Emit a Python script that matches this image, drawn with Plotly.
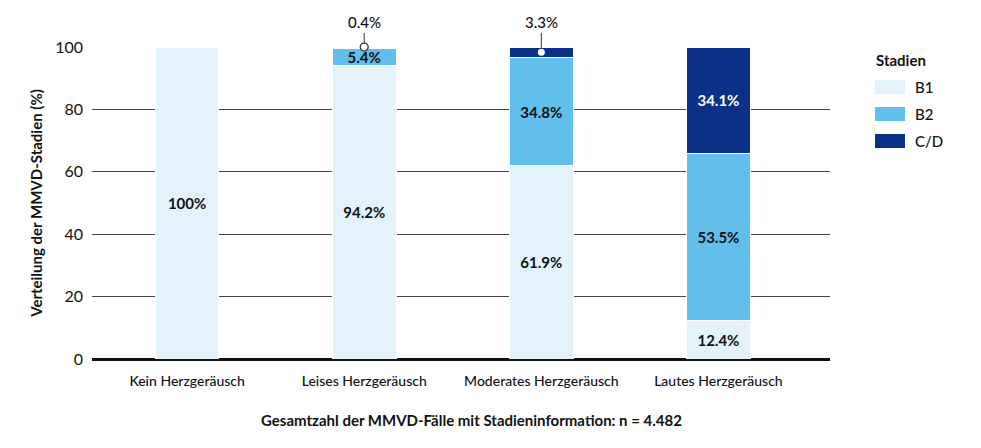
import plotly.graph_objects as go

categories = ["Kein Herzgeräusch", "Leises Herzgeräusch", "Moderates Herzgeräusch", "Lautes Herzgeräusch"]
b1 = [100, 94.2, 61.9, 12.4]
b2 = [0, 5.4, 34.8, 53.5]
cd = [0, 0.4, 3.3, 34.1]
b1_labels = ["100%", "94.2%", "61.9%", "12.4%"]
b2_labels = ["", "5.4%", "34.8%", "53.5%"]
cd_labels = ["", "", "", "34.1%"]
# small segments labelled outside with a leader line
callout_cats = ["Leises Herzgeräusch", "Moderates Herzgeräusch"]
callout_text = ["0.4%", "3.3%"]
series_names = ["B1", "B2", "C/D"]

FONT = "Lato"
DARK = "#111111"
C_B1 = "#e4f3fb"
C_B2 = "#62bfec"
C_CD = "#0a3187"
colors = [C_B1, C_B2, C_CD]
text_colors = [DARK, DARK, "white"]

# plot area pixel geometry
L, R, T, B, W, H = 92, 151, 47, 89, 981, 448
PW, PH = W - L - R, H - T - B
def px(x):
    return (x - L) / PW
def py(y):
    return (H - B - y) / PH

fig = go.Figure()
for name, vals, labels, color, tcol in zip(series_names, [b1, b2, cd], [b1_labels, b2_labels, cd_labels], colors, text_colors):
    fig.add_trace(go.Bar(
        x=categories, y=vals, name=name, text=labels, textposition="inside",
        insidetextanchor="middle", width=0.36, showlegend=False,
        marker=dict(color=color, line=dict(color="white", width=1)),
        textfont=dict(family=FONT, size=15, color=tcol, weight=700),
        constraintext="none", hoverinfo="skip",
    ))

# callout markers
idx = [categories.index(c) for c in callout_cats]
tops = [round(b1[i] + b2[i] + cd[i], 6) for i in idx]
mids = [round(b1[i] + b2[i] + cd[i] / 2, 6) for i in idx]
point_y = [tops[0], mids[1]]
for c, t, yv in zip(callout_cats, callout_text, point_y):
    fig.add_annotation(x=c, y=yv, text=t, showarrow=True, arrowhead=0, arrowwidth=1,
                       arrowcolor="#333", ax=0, ay=-(100 - yv) * 3.12 - 14, standoff=3,
                       font=dict(family=FONT, size=15, color=DARK, weight=500), yanchor="bottom")
fig.add_trace(go.Scatter(
    x=[callout_cats[0]], y=[point_y[0]], mode="markers", showlegend=False, cliponaxis=False,
    marker=dict(size=8, color="white", line=dict(color="#222", width=1.2)), hoverinfo="skip"))
fig.add_trace(go.Scatter(
    x=[callout_cats[1]], y=[point_y[1]], mode="markers", showlegend=False, cliponaxis=False,
    marker=dict(size=7, color="white", line=dict(width=0)), hoverinfo="skip"))

# custom legend
fig.add_annotation(x=px(874), y=py(60), xref="paper", yref="paper", xanchor="left", yanchor="middle",
                   text="<b>Stadien</b>", showarrow=False, font=dict(family=FONT, size=15, color=DARK))
for k, (name, color) in enumerate(zip(series_names, colors)):
    cy = 87 + 27 * k
    fig.add_shape(type="rect", xref="paper", yref="paper", x0=px(875), x1=px(905),
                  y0=py(cy + 7), y1=py(cy - 7), fillcolor=color, line=dict(width=0))
    fig.add_annotation(x=px(913), y=py(cy), xref="paper", yref="paper", xanchor="left", yanchor="middle",
                       text=name, showarrow=False, font=dict(family=FONT, size=15, color=DARK, weight=500))

fig.add_annotation(x=px(471), y=py(420), xref="paper", yref="paper", xanchor="center", yanchor="middle",
                   text="Gesamtzahl der MMVD-Fälle mit Stadieninformation: n = 4.482", showarrow=False,
                   font=dict(family=FONT, size=15, color=DARK, weight=700))

fig.update_layout(
    barmode="stack", width=W, height=H,
    margin=dict(l=L, r=R, t=T, b=B),
    paper_bgcolor="white", plot_bgcolor="white",
    showlegend=False,
    font=dict(family=FONT, color=DARK),
    xaxis=dict(range=[-0.537, 3.63], showgrid=False, showline=False, ticks="", ticklabelstandoff=12,
               tickfont=dict(family=FONT, size=14, color=DARK, weight=500)),
    yaxis=dict(range=[0, 100], tickvals=[0, 20, 40, 60, 80, 100], showgrid=True,
               gridcolor="#444444", gridwidth=1, zeroline=True, zerolinecolor="#111", zerolinewidth=2.5,
               ticks="", ticklabelstandoff=8, tickfont=dict(family=FONT, size=16, color=DARK),
               title=dict(text="<b>Verteilung der MMVD-Stadien (%)</b>", standoff=8,
                          font=dict(family=FONT, size=15, color=DARK))),
)
fig.write_html("out.html")
